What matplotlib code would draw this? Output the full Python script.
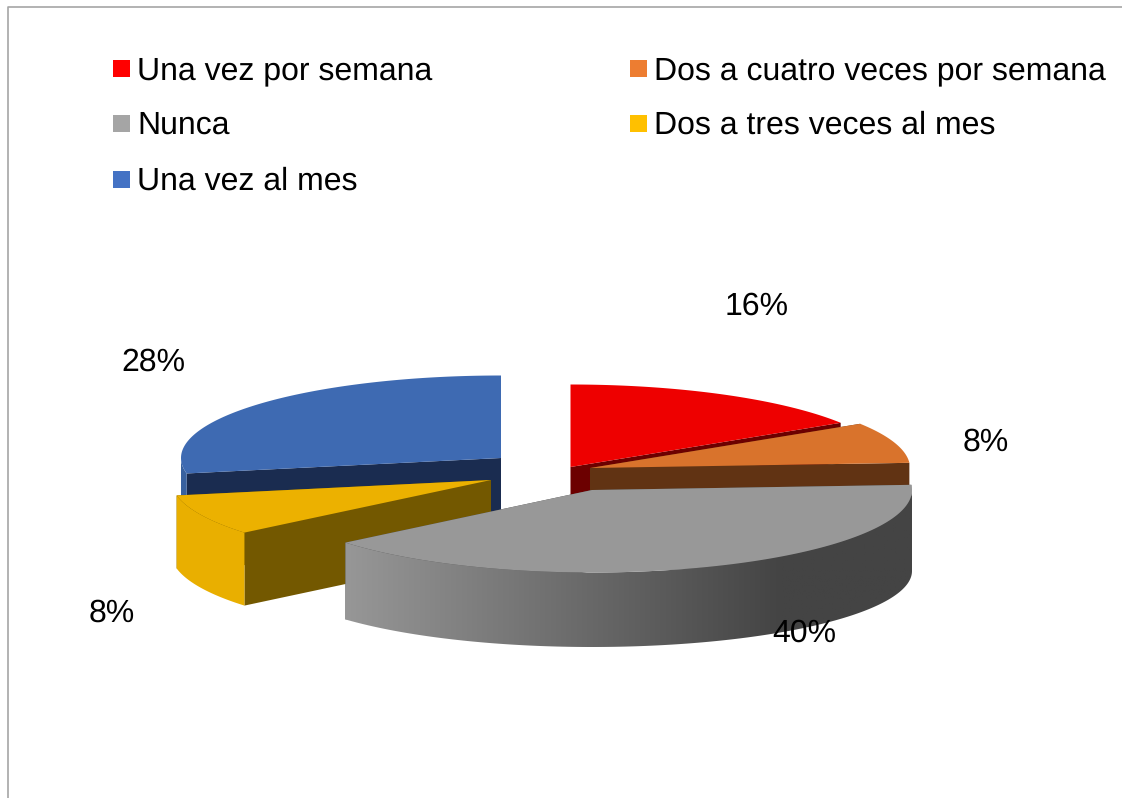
from __future__ import annotations

import matplotlib

matplotlib.use("Agg")
import matplotlib.pyplot as plt
import numpy as np
from matplotlib.colors import LinearSegmentedColormap
from matplotlib.patches import Polygon, Rectangle

plt.rcParams["font.family"] = ["Liberation Sans", "DejaVu Sans"]
plt.rcParams["text.hinting"] = "no_hinting"
plt.rcParams["text.hinting_factor"] = 1

categories = [
    "Una vez por semana",
    "Dos a cuatro veces por semana",
    "Nunca",
    "Dos a tres veces al mes",
    "Una vez al mes",
]
shares = [16, 8, 40, 8, 28]

# slice styling, same order as categories
legend_colors = ["#ff0000", "#ed7d31", "#a5a5a5", "#ffc000", "#4472c4"]
top_colors = ["#ee0000", "#d9732c", "#989898", "#ecb100", "#3e6ab2"]
face_colors = ["#6c0000", "#613313", "#4a4a4a", "#735800", "#1a2c50"]
wall_colors = ["#b00000", "#a05520", "#707070", "#e9af00", "#38619f"]

# exploded centres and pie geometry in pixels
center_x = [570.5, 590, 592, 491, 501]
center_y = [467, 468, 490, 480, 458]
depths = [40, 25, 81, 73, 73]
bottom_ry = [82.5, 82.5, 76, 82.5, 82.5]
RX = 320
RY = 82.5
draw_order = [4, 0, 1, 3, 2]

# where the percentages sit
label_x = [756.5, 986, 804, 112, 153.5]
label_y = [306, 442, 633, 613, 362]

legend_x = [113, 630, 113, 630, 113]
legend_y = [60, 60, 115, 115, 171]
legend_base = [79, 79, 134, 134, 190]

FONT = 22.95


def arc(cx, cy, ry, a0, a1):
    t = np.radians(np.linspace(a0, a1, 160))
    return np.column_stack([cx + RX * np.sin(t), cy - ry * np.cos(t)])


fig = plt.figure(figsize=(11.22, 7.98), dpi=100)
ax = fig.add_axes([0, 0, 1, 1])

bounds = np.concatenate([[0], np.cumsum(shares)]) * 3.6
z = 2
for i in draw_order:
    a0, a1 = bounds[i], bounds[i + 1]
    cx, cy, d = center_x[i], center_y[i], depths[i]

    # cut faces, hanging down from the two straight edges
    for a in (a1, a0):
        p = arc(cx, cy, RY, a, a)[0]
        q = arc(cx, cy + d, bottom_ry[i], a, a)[0]
        quad = [(cx, cy), p, q, (cx, cy + d)]
        ax.add_patch(Polygon(quad, fc=face_colors[i], ec="none", zorder=z))
        z += 1

    # outer wall, front half of the rim only
    w0, w1 = max(a0, 90), min(a1, 270)
    if w1 > w0:
        upper = arc(cx, cy, RY, w0, w1)
        lower = arc(cx, cy + d, bottom_ry[i], w0, w1)
        wall = Polygon(np.vstack([upper, lower[::-1]]), fc=wall_colors[i], ec="none", zorder=z)
        ax.add_patch(wall)
        z += 1
        if categories[i] == "Nunca":
            cmap = LinearSegmentedColormap.from_list(
                "wall", [(0, "#444444"), (0.23, "#444444"), (1, "#979797")]
            )
            wall.set_visible(False)
            clip = Polygon(np.vstack([upper, lower[::-1]]), transform=ax.transData)
            grad = np.linspace(1, 0, 256).reshape(1, -1)
            im = ax.imshow(grad, cmap=cmap, extent=(345, 912, 660, 480), aspect="auto",
                           vmin=0, vmax=1, zorder=z)
            im.set_clip_path(clip)
            z += 1

    top = np.vstack([[(cx, cy)], arc(cx, cy, RY, a0, a1)])
    ax.add_patch(Polygon(top, fc=top_colors[i], ec="none", zorder=z))
    z += 1

for i, name in enumerate(categories):
    ax.add_patch(Rectangle((legend_x[i], legend_y[i]), 17, 17, fc=legend_colors[i], ec="none", zorder=z))
    ax.text(legend_x[i] + 24, legend_base[i], name, fontsize=FONT, color="#000000",
            va="baseline", ha="left", zorder=z)
    ax.text(label_x[i], label_y[i], f"{shares[i]}%", fontsize=FONT, color="#000000",
            va="center", ha="center", zorder=z + 1)

# chart frame, only left and top fall inside the crop
ax.plot([8.5, 8.5, 1122], [798, 6.5, 6.5], color="#a6a6a6", lw=1.2, zorder=1)

ax.set_xlim(0, 1122)
ax.set_ylim(798, 0)
ax.axis("off")
fig.savefig("out.png", dpi=100, facecolor="white")
plt.close(fig)
